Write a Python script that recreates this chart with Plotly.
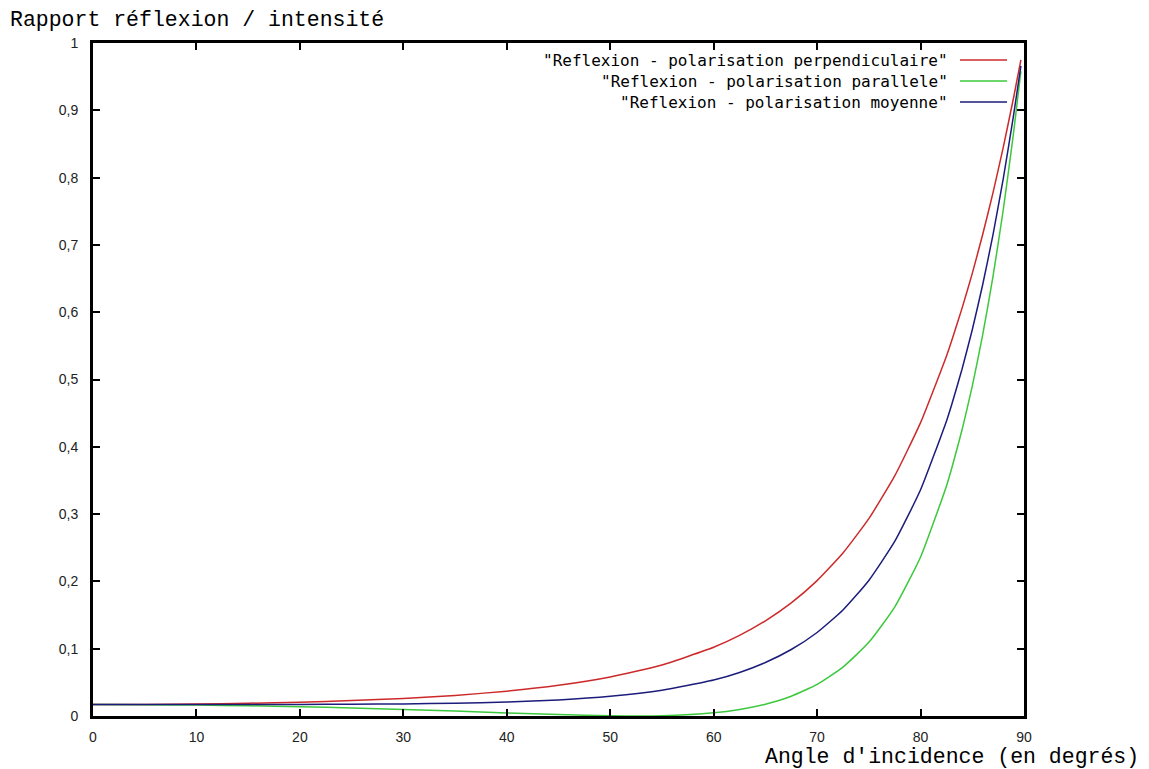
import plotly.graph_objects as go

# Angle d'incidence (degrés)
angles = [0, 5, 10, 15, 20, 25, 30, 35, 40, 45, 50, 55, 60, 62.5, 65, 67.5,
          70, 72.5, 75, 77.5, 80, 82.5, 83, 84, 85, 86, 87, 88, 89, 89.7]
# Réflexion - polarisation perpendiculaire
r_perp = [0.0170, 0.0172, 0.0178, 0.0189, 0.0206, 0.0229, 0.0261, 0.0306,
          0.0369, 0.0456, 0.0580, 0.0758, 0.1021, 0.1197, 0.1414, 0.1681,
          0.2012, 0.2422, 0.2932, 0.3567, 0.4359, 0.5347, 0.5572, 0.6053,
          0.6577, 0.7150, 0.7773, 0.8454, 0.9194, 0.975]
# Réflexion - polarisation parallèle
r_par = [0.0170, 0.0168, 0.0162, 0.0152, 0.0138, 0.0120, 0.0098, 0.0073,
         0.0046, 0.0021, 0.0003, 0.0004, 0.0047, 0.0097, 0.0175, 0.0294,
         0.0471, 0.0727, 0.1095, 0.1619, 0.2363, 0.3415, 0.3673, 0.4245,
         0.4902, 0.5658, 0.6527, 0.7526, 0.8676, 0.958]
# Réflexion - polarisation moyenne
r_moy = [0.0170, 0.0170, 0.0170, 0.0171, 0.0172, 0.0175, 0.0180, 0.0190,
         0.0208, 0.0239, 0.0292, 0.0381, 0.0534, 0.0647, 0.0795, 0.0988,
         0.1241, 0.1575, 0.2014, 0.2593, 0.3361, 0.4381, 0.4622, 0.5149,
         0.5740, 0.6404, 0.7150, 0.7990, 0.8935, 0.966]

names = ['"Reflexion - polarisation perpendiculaire"',
         '"Reflexion - polarisation parallele"',
         '"Reflexion - polarisation moyenne"']
colors = ["#cc2a2a", "#3cc83c", "#1c1c7c"]
series = [r_perp, r_par, r_moy]

x_ticks = [0, 10, 20, 30, 40, 50, 60, 70, 80, 90]
y_ticks = [0, 0.1, 0.2, 0.3, 0.4, 0.5, 0.6, 0.7, 0.8, 0.9, 1]
y_ticktext = ["0", "0,1", "0,2", "0,3", "0,4", "0,5", "0,6", "0,7", "0,8", "0,9", "1"]

fig = go.Figure()
for name, col, vals in zip(names, colors, series):
    fig.add_trace(go.Scatter(x=angles, y=vals, mode="lines", name=name,
                             line=dict(color=col, width=1.5, shape="spline", smoothing=0.5),
                             showlegend=False))

W, H = 1149, 769
L, R, T, B = 93, 1149 - 1024, 43, 769 - 716
pw, ph = W - L - R, H - T - B

def px_x(p):
    return (p - L) / pw

def px_y(p):
    return (H - B - p) / ph

anns = []
shapes = []
row_y = [60, 81, 102]
for name, col, yy in zip(names, colors, row_y):
    anns.append(dict(x=px_x(950), y=px_y(yy), xref="paper", yref="paper",
                     text=name, showarrow=False, xanchor="right", yanchor="middle",
                     font=dict(family="DejaVu Sans Mono, monospace", size=16, color="black")))
    shapes.append(dict(type="line", xref="paper", yref="paper",
                       x0=px_x(960), x1=px_x(1007), y0=px_y(yy), y1=px_y(yy),
                       line=dict(color=col, width=1.5)))

anns.append(dict(x=px_x(8), y=px_y(20), xref="paper", yref="paper",
                 text="Rapport réflexion / intensité", showarrow=False,
                 xanchor="left", yanchor="middle",
                 font=dict(family="Liberation Mono, Courier New, monospace", size=21.5, color="black")))
anns.append(dict(x=px_x(1141), y=px_y(757), xref="paper", yref="paper",
                 text="Angle d'incidence (en degrés)", showarrow=False,
                 xanchor="right", yanchor="middle",
                 font=dict(family="Liberation Mono, Courier New, monospace", size=21.5, color="black")))

axis_common = dict(showline=True, linecolor="black", linewidth=3, mirror="allticks",
                   ticks="inside", ticklen=7, tickwidth=2, tickcolor="black",
                   showgrid=False, zeroline=False, layer="above traces",
                   tickfont=dict(family="Liberation Sans, Arial, sans-serif", size=14, color="#222"))

fig.update_layout(
    width=W, height=H,
    margin=dict(l=L, r=R, t=T, b=B, pad=0),
    paper_bgcolor="white", plot_bgcolor="white",
    xaxis=dict(range=[0, 90], tickvals=x_ticks, ticktext=[str(v) for v in x_ticks],
               ticklabelstandoff=6, **axis_common),
    yaxis=dict(range=[0, 1], tickvals=y_ticks, ticktext=y_ticktext,
               ticklabelstandoff=9, **axis_common),
    annotations=anns, shapes=shapes,
)

fig.write_html("out.html")
